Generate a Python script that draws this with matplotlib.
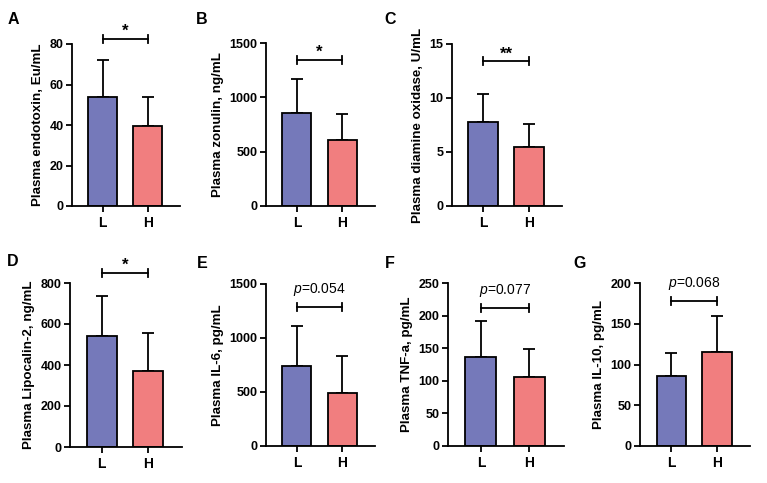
import matplotlib
matplotlib.use("Agg")
import matplotlib.pyplot as plt

plt.rcParams['font.family'] = ['Liberation Sans', 'DejaVu Sans']
plt.rcParams['mathtext.fontset'] = 'custom'
plt.rcParams['mathtext.it'] = 'Liberation Sans:italic'
plt.rcParams['mathtext.rm'] = 'Liberation Sans'

groups = ["L", "H"]
panel_letters = ["A", "B", "C", "D", "E", "F", "G"]
ylabels = ["Plasma endotoxin, Eu/mL", "Plasma zonulin, ng/mL",
           "Plasma diamine oxidase, U/mL", "Plasma Lipocalin-2, ng/mL",
           "Plasma IL-6, pg/mL", "Plasma TNF-a, pg/mL", "Plasma IL-10, pg/mL"]
means_L = [54, 855, 7.8, 540, 745, 137, 86]
means_H = [39.5, 610, 5.5, 370, 495, 106, 115]
sd_L = [18, 310, 2.6, 195, 365, 54, 28]
sd_H = [14.5, 240, 2.1, 185, 335, 43, 44]
ymax = [80, 1500, 15, 800, 1500, 250, 200]
ystep = [20, 500, 5, 200, 500, 50, 50]
sig_labels = ["*", "*", "**", "*", "p=0.054", "p=0.077", "p=0.068"]
bracket_y = [82.5, 1345, 13.4, 850, 1290, 212, 178]

colors = ["#7579BA", "#F17E7F"]

W, H = 767, 483
fig = plt.figure(figsize=(W / 100, H / 100), dpi=100)

# pixel boxes: left, right, top, bottom
boxes = [(72, 180, 44, 206), (266, 375, 43, 206), (452, 562, 44, 206),
         (70, 182, 283, 447), (266, 375, 284, 446), (448, 564, 283, 446),
         (640, 750, 283, 446)]
letter_pos = [(13, 20), (202, 20), (390, 20), (13, 262), (202, 263),
              (390, 263), (580, 263)]

for i in range(7):
    l, r, t, b = boxes[i]
    ax = fig.add_axes([l / W, 1 - b / H, (r - l) / W, (b - t) / H])
    vals = [means_L[i], means_H[i]]
    errs = [sd_L[i], sd_H[i]]
    ax.bar([0, 1], vals, width=0.64, color=colors, edgecolor="black",
           linewidth=1.3, zorder=2)
    ax.errorbar([0, 1], vals, yerr=[[0, 0], errs], fmt="none", ecolor="black",
                elinewidth=1.3, capsize=4.5, capthick=1.3, zorder=1)
    ax.set_xlim(-0.68, 1.72)
    ax.set_ylim(0, ymax[i])
    ax.set_yticks([k * ystep[i] for k in range(int(round(ymax[i] / ystep[i])) + 1)])
    ax.set_xticks([0, 1])
    ax.set_xticklabels(groups)
    for s in ["top", "right"]:
        ax.spines[s].set_visible(False)
    for s in ["left", "bottom"]:
        ax.spines[s].set_linewidth(1.3)
    ax.tick_params(width=1.3, length=4, labelsize=9, pad=2)
    ax.tick_params(axis="x", labelsize=10, pad=3)
    for lab in ax.get_xticklabels() + ax.get_yticklabels():
        lab.set_fontweight("bold")
    ax.set_ylabel(ylabels[i], fontsize=9.6, fontweight="bold", labelpad=4)
    # bracket
    by = bracket_y[i]
    d = ymax[i] * 0.025
    ax.plot([0, 1], [by, by], color="black", lw=1.3, clip_on=False)
    ax.plot([0, 0], [by - d, by + d], color="black", lw=1.3, clip_on=False)
    ax.plot([1, 1], [by - d, by + d], color="black", lw=1.3, clip_on=False)
    s = sig_labels[i]
    if s.startswith("p"):
        ax.text(0.5, by + ymax[i] * 0.055, r"$\it{p}$" + s[1:], ha="center",
                va="bottom", fontsize=10, clip_on=False)
    else:
        ax.text(0.5, by + ymax[i] * 0.0, s, ha="center", va="bottom",
                fontsize=12, fontweight="bold", clip_on=False)
    lx, ly = letter_pos[i]
    fig.text(lx / W, 1 - ly / H, panel_letters[i], fontsize=11.5,
             fontweight="bold", ha="center", va="center")

fig.savefig("out.png", dpi=100)
